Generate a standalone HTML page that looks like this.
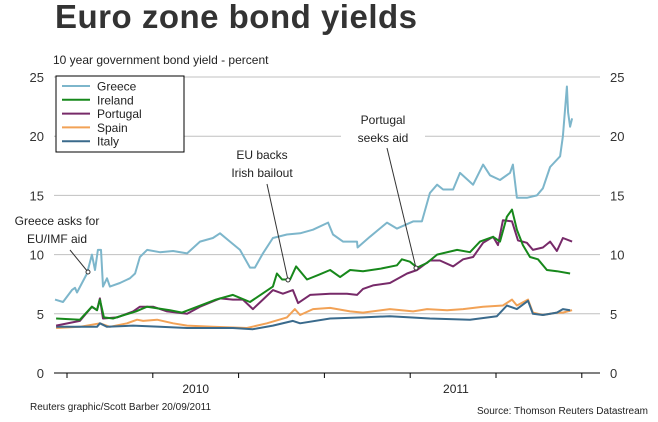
<!DOCTYPE html>
<html><head><meta charset="utf-8"><style>
body{margin:0;background:#fff;}
svg{display:block;font-family:"Liberation Sans",Arial,sans-serif;}
</style></head><body>
<svg id="chart" width="658" height="422" viewBox="0 0 658 422">
<text x="55" y="28" font-size="33" font-weight="bold" fill="#333" textLength="362">Euro zone bond yields</text>
<text x="53" y="64" font-size="12" fill="#222">10 year government bond yield - percent</text>
<g id="grid"></g>
<g id="series"></g>
<g id="annot"></g>
<g>
<rect x="56" y="76" width="128" height="76" fill="#fff" stroke="#000" stroke-width="1"/>
<g id="legend"></g>
</g>
<text x="30" y="410" font-size="10" fill="#222">Reuters graphic/Scott Barber 20/09/2011</text>
<text x="648" y="414" font-size="10" fill="#222" text-anchor="end">Source: Thomson Reuters Datastream</text>
</svg>
<script>
// time unit: months since 1 Apr 2010
const yTicks=[0,5,10,15,20,25];
const xTickMonths=[0,3,6,9,12,15,18];
const xYearLabels=["2010","2011"];
const xYearPos=[4.5,13.6];
const seriesNames=["Greece","Ireland","Portugal","Spain","Italy"];
const greeceT=[-0.42,-0.14,0.17,0.28,0.35,0.70,0.87,0.98,1.08,1.19,1.26,1.40,1.50,1.85,2.20,2.38,2.55,2.80,3.25,3.71,4.20,4.65,5.10,5.35,5.70,6.05,6.40,6.57,6.85,7.20,7.69,8.15,8.60,9.13,9.30,9.65,10.14,10.16,10.59,11.19,11.54,12.10,12.41,12.69,12.94,13.15,13.50,13.74,14.20,14.55,14.79,15.14,15.49,15.59,15.73,16.08,16.43,16.64,16.89,17.24,17.34,17.48,17.52,17.59,17.66];
const greeceV=[6.2,6.0,7.0,7.2,6.8,8.4,10.0,8.7,10.4,10.4,7.3,8.0,7.3,7.6,8.0,8.4,9.8,10.4,10.2,10.3,10.1,11.1,11.4,11.8,11.1,10.4,8.9,8.9,10.1,11.4,11.7,11.8,12.1,12.7,11.7,11.1,11.1,10.6,11.5,12.7,12.2,12.8,12.8,15.2,15.9,15.5,15.5,16.9,15.9,17.6,16.7,16.3,16.9,17.6,14.8,14.8,15.0,15.6,17.4,18.3,20.0,24.2,22.0,20.8,21.5];
const irelandT=[-0.38,0.45,0.87,1.05,1.15,1.29,1.61,2.41,2.80,3.60,4.02,5.21,5.80,6.40,7.20,7.34,7.52,7.80,8.01,8.39,8.81,9.20,9.55,9.90,10.35,10.94,11.54,11.71,11.99,12.24,12.59,12.94,13.64,14.09,14.44,14.90,15.14,15.38,15.56,15.73,15.94,16.19,16.47,16.78,17.13,17.59];
const irelandV=[4.6,4.5,5.6,5.3,6.2,4.7,4.6,5.2,5.6,5.3,5.1,6.2,6.6,6.0,7.3,8.4,7.9,7.9,9.0,7.9,8.3,8.7,8.1,8.7,8.6,8.8,9.1,9.6,9.4,8.9,9.3,10.0,10.4,10.2,11.1,11.5,11.1,13.2,13.8,12.1,10.8,9.8,9.6,8.7,8.6,8.4];
const portugalT=[-0.38,0.45,0.87,1.05,1.15,1.26,1.75,2.31,2.55,3.01,3.50,4.20,4.65,5.35,5.80,6.15,6.50,6.85,7.20,7.55,7.90,8.08,8.50,9.20,9.79,10.14,10.35,10.70,11.29,11.89,12.24,12.69,13.04,13.50,13.85,14.20,14.55,14.90,15.07,15.24,15.56,15.77,16.08,16.29,16.64,16.89,17.13,17.34,17.66];
const portugalV=[4.0,4.4,5.6,5.3,6.3,4.6,4.7,5.2,5.6,5.6,5.2,5.0,5.6,6.3,6.2,6.2,5.4,6.2,7.0,6.7,7.0,5.9,6.6,6.7,6.7,6.6,7.1,7.4,7.6,8.4,8.7,9.5,9.5,9.0,9.6,9.8,11.0,11.5,10.8,12.9,12.8,11.2,11.0,10.4,10.6,11.1,10.3,11.4,11.1];
const spainT=[-0.38,0.45,1.15,1.50,2.10,2.45,2.66,3.15,3.71,4.20,5.10,6.29,6.99,7.69,7.97,8.15,8.60,9.20,9.90,10.35,11.29,12.10,12.59,13.29,13.85,14.55,15.24,15.56,15.73,16.12,16.29,16.64,17.13,17.34,17.66];
const spainV=[3.8,3.9,4.2,3.9,4.2,4.5,4.4,4.5,4.2,4.0,3.9,3.8,4.2,4.7,5.4,4.9,5.4,5.5,5.2,5.1,5.4,5.2,5.4,5.3,5.4,5.6,5.7,6.2,5.7,6.2,5.1,4.9,5.1,5.1,5.3];
const italyT=[-0.38,1.05,1.15,1.40,2.31,3.25,4.20,5.80,6.50,7.20,7.90,8.15,9.20,10.35,11.29,12.69,14.09,15.03,15.38,15.73,16.12,16.29,16.64,17.13,17.34,17.59];
const italyV=[3.9,3.9,4.2,3.9,4.0,3.9,3.8,3.8,3.7,4.0,4.4,4.2,4.6,4.7,4.8,4.6,4.5,4.8,5.7,5.4,6.1,5.0,4.9,5.1,5.4,5.3];

const NS="http://www.w3.org/2000/svg";
const X0=67, PXM=28.6, Y0=373, PXV=11.84, LEFT=54, RIGHT=600;
function xs(t){return X0+t*PXM;}
function ys(v){return Y0-v*PXV;}
function mk(tag,attrs,parent){const e=document.createElementNS(NS,tag);for(const k in attrs)e.setAttribute(k,attrs[k]);parent.appendChild(e);return e;}
const grid=document.getElementById('grid');
yTicks.forEach(v=>{
  if(v>0){const g=mk('line',{x1:LEFT,x2:RIGHT,y1:ys(v),y2:ys(v),stroke:'#c0c0c0','stroke-width':1},grid);
  
  }
  const l=mk('text',{x:44,y:ys(v)+5,'font-size':13,fill:'#333','text-anchor':'end'},grid);l.textContent=v;
  
  
  const r=mk('text',{x:610,y:ys(v)+5,'font-size':13,fill:'#333'},grid);r.textContent=v;
  
  
});
const ax=mk('line',{x1:LEFT,x2:RIGHT,y1:Y0,y2:Y0,stroke:'#000','stroke-width':1},grid);


xTickMonths.forEach(m=>{const t=mk('line',{x1:xs(m),x2:xs(m),y1:Y0,y2:Y0+5,stroke:'#000'},grid);
  
  });
xYearLabels.forEach((s,i)=>{const t=mk('text',{x:xs(xYearPos[i]),y:393,'font-size':12,fill:'#222','text-anchor':'middle'},grid);t.textContent=s;
  
  });

const colors=['#7db6cb','#17881b','#772a69','#f2a256','#3a6a8c'];
const data=[[greeceT,greeceV],[irelandT,irelandV],[portugalT,portugalV],[spainT,spainV],[italyT,italyV]];
const sg=document.getElementById('series');
[0,3,4,2,1].forEach(i=>{
  const [T,V]=data[i];
  const d=T.map((t,k)=>(k?'L':'M')+xs(t).toFixed(1)+','+ys(V[k]).toFixed(1)).join('');
  const p=mk('path',{d:d,fill:'none',stroke:colors[i],'stroke-width':2,'stroke-linejoin':'round'},sg);
  
  
});
const lg=document.getElementById('legend');
seriesNames.forEach((n,i)=>{
  const y=86+i*13.8;
  const l=mk('line',{x1:62,x2:90,y1:y,y2:y,stroke:colors[i],'stroke-width':2},lg);
  
  
  const t=mk('text',{x:97,y:y+4.5,'font-size':12,fill:'#222'},lg);t.textContent=n;
  
  
});
const an=document.getElementById('annot');
const notes=[
 {name:'greece-aid',lines:['Greece asks for','EU/IMF aid'],cx:57,y:225,x1:70,y1:250,x2:88,y2:272},
 {name:'irish-bailout',lines:['EU backs','Irish bailout'],cx:262,y:159,x1:267,y1:184,x2:288,y2:280},
 {name:'portugal-aid',lines:['Portugal','seeks aid'],cx:383,y:124,x1:387,y1:148,x2:416,y2:268}
];
notes.forEach(n=>{
  const g=mk('g',{},an);
  
  
  mk('rect',{x:n.cx-42,y:n.y-12,width:84,height:33,fill:'#fff'},g);
  n.lines.forEach((s,k)=>{const t=mk('text',{x:n.cx,y:n.y+k*18,'font-size':12,fill:'#222','text-anchor':'middle'},g);t.textContent=s;});
  mk('line',{x1:n.x1,y1:n.y1,x2:n.x2,y2:n.y2,stroke:'#333','stroke-width':1},g);
  mk('circle',{cx:n.x2,cy:n.y2,r:2,fill:'#fff',stroke:'#333','stroke-width':1},g);
});
</script>
</body></html>
